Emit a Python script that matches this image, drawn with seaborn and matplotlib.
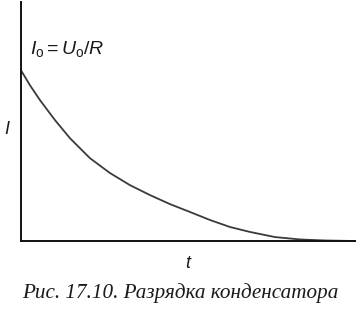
import matplotlib
matplotlib.use("Agg")
import matplotlib.pyplot as plt
import seaborn as sns
import pandas as pd

# (time in arbitrary units, current relative to I0)
t_values = [0.0, 0.09, 0.19, 0.34, 0.49, 0.69, 0.89, 1.09, 1.29, 1.49, 1.69,
            1.89, 2.09, 2.29, 2.54, 2.79, 3.04, 3.34]
i_values = [1.0, 0.912, 0.825, 0.708, 0.602, 0.485, 0.398, 0.327, 0.269, 0.216, 0.170,
            0.123, 0.082, 0.053, 0.023, 0.009, 0.003, 0.0]
x_label = "t"
y_label = "I"
annotation = r"$\mathit{I}_{\mathrm{o}} = \mathit{U}_{\mathrm{o}}/\mathit{R}$"
caption = "Рис. 17.10. Разрядка конденсатора"

sns.set_theme(style="white")
plt.rcParams["font.family"] = ["Liberation Sans", "DejaVu Sans"]
plt.rcParams["mathtext.fontset"] = "custom"
plt.rcParams["mathtext.it"] = "Liberation Sans:italic"
plt.rcParams["mathtext.rm"] = "Liberation Sans"

df = pd.DataFrame({"t": t_values, "I": i_values})

W, H = 359, 309
fig = plt.figure(figsize=(W / 100, H / 100), dpi=100)
ax = fig.add_axes([21 / W, (H - 241) / H, (355 - 21) / W, 239 / H])
sns.lineplot(data=df, x="t", y="I", ax=ax, color="#3a3a3a", linewidth=1.3)
ax.set_xlim(0, 3.34)
ax.set_ylim(0, 1.40)
ax.set_xticks([])
ax.set_yticks([])
ax.set_xlabel("")
ax.set_ylabel("")
for s in ["top", "right"]:
    ax.spines[s].set_visible(False)
for s in ["left", "bottom"]:
    ax.spines[s].set_color("#111111")
    ax.spines[s].set_linewidth(1.4)

fig.text(30 / W, 1 - 54 / H, annotation, fontsize=14, color="#1a1a1a", va="baseline", ha="left")
fig.text(7 / W, 1 - 129 / H, y_label, fontsize=13, style="italic", color="#1a1a1a", ha="center", va="center")
fig.text(188 / W, 1 - 264 / H, x_label, fontsize=13, style="italic", color="#1a1a1a", ha="center", va="center")
fig.text(22 / W, 1 - 293 / H, caption, fontsize=15.2, style="italic", family=["Liberation Serif", "DejaVu Serif"],
         color="#1a1a1a", ha="left", va="center")

fig.savefig("out.png", dpi=100)
